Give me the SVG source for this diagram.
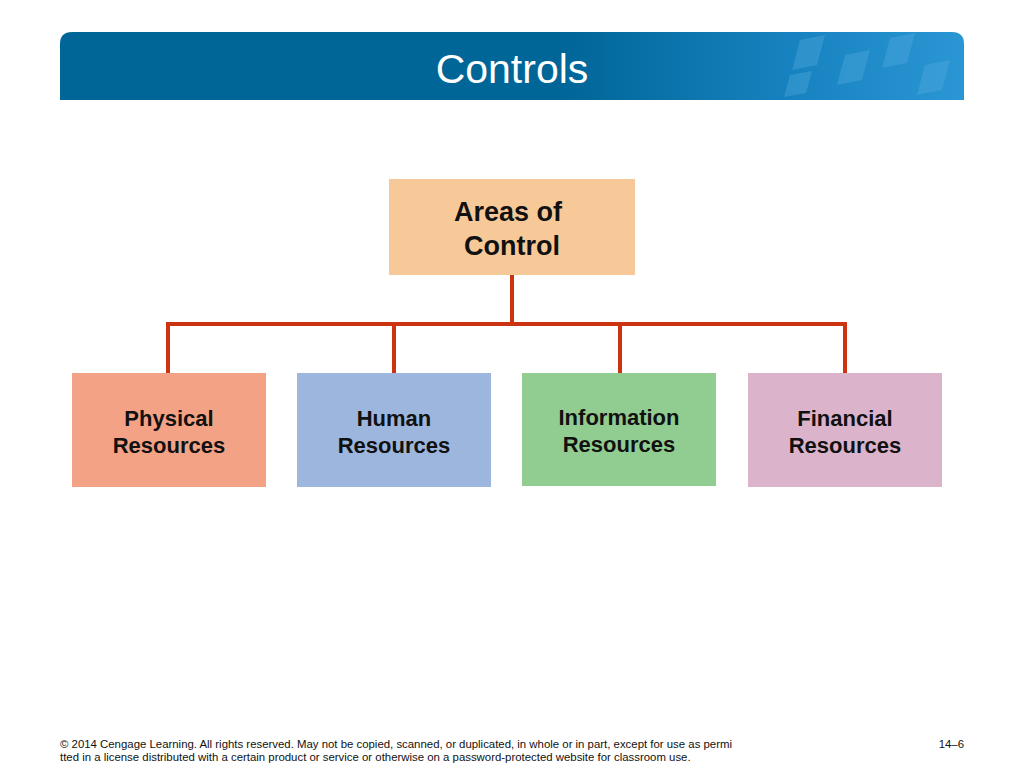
<svg xmlns="http://www.w3.org/2000/svg" width="1024" height="768" viewBox="0 0 1024 768">
<defs>
<linearGradient id="hg" x1="0" y1="0" x2="1" y2="0">
<stop offset="0" stop-color="#006597"/>
<stop offset="0.55" stop-color="#006597"/>
<stop offset="0.8" stop-color="#1581be"/>
<stop offset="1" stop-color="#2a96d4"/>
</linearGradient>
<style>
.t{font-family:"Liberation Sans",Arial,sans-serif;font-weight:bold;font-size:22px;fill:#111;text-anchor:middle}
.r{font-size:27px}
.c{stroke:#cc3311;stroke-width:4;fill:none}
.f{font-family:"Liberation Sans",Arial,sans-serif;font-size:11.4px;fill:#111}
</style>
</defs>
<rect width="1024" height="768" fill="#fff"/>
<g id="header">
<path d="M72 32 H952 Q964 32 964 44 V100 H60 V44 Q60 32 72 32 Z" fill="url(#hg)"/>
<g fill="#5aaee0" opacity="0.35">
<path d="M800 40 l25 -5 l-8 30 l-25 5 Z"/>
<path d="M845 55 l25 -5 l-8 30 l-25 5 Z"/>
<path d="M890 38 l25 -5 l-8 30 l-25 5 Z"/>
<path d="M925 65 l25 -5 l-8 30 l-25 5 Z"/>
<path d="M790 75 l22 -4 l-6 22 l-22 4 Z"/>
</g>
<text x="512" y="83" font-family="Liberation Sans,Arial,sans-serif" font-size="41" fill="#fff" text-anchor="middle">Controls</text>
</g>
<g id="connectors">
<path class="c" d="M512 275 V324 M168 373 V324 H845 V373 M394 324 V373 M620 324 V373"/>
</g>
<g id="root"><rect x="389" y="179" width="246" height="96" fill="#f8c998"/>
<text class="t r" x="508" y="221">Areas of</text><text class="t r" x="512" y="255">Control</text></g>
<g id="physical"><rect x="72" y="373" width="194" height="114" fill="#f3a286"/>
<text class="t" x="169" y="426">Physical</text><text class="t" x="169" y="453">Resources</text></g>
<g id="human"><rect x="297" y="373" width="194" height="114" fill="#9db6de"/>
<text class="t" x="394" y="426">Human</text><text class="t" x="394" y="453">Resources</text></g>
<g id="information"><rect x="522" y="373" width="194" height="113" fill="#91cc91"/>
<text class="t" x="619" y="425">Information</text><text class="t" x="619" y="452">Resources</text></g>
<g id="financial"><rect x="748" y="373" width="194" height="114" fill="#dbb4cb"/>
<text class="t" x="845" y="426">Financial</text><text class="t" x="845" y="453">Resources</text></g>
<g id="footer">
<text class="f" x="60" y="748">© 2014 Cengage Learning. All rights reserved. May not be copied, scanned, or duplicated, in whole or in part, except for use as permi</text>
<text class="f" x="60" y="761">tted in a license distributed with a certain product or service or otherwise on a password-protected website for classroom use.</text>
<text class="f" x="964" y="748" text-anchor="end">14–6</text>
</g>
</svg>
